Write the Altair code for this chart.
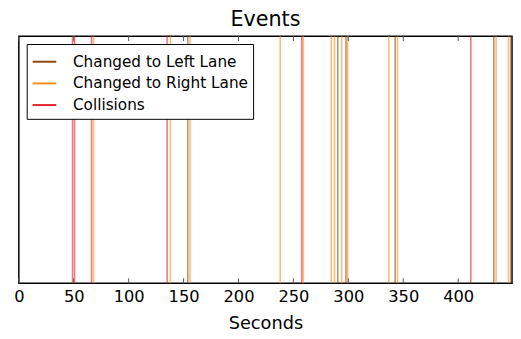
import altair as alt
import pandas as pd

categories = ["Changed to Left Lane", "Changed to Right Lane", "Collisions"]
colors = ["#8b4a14", "#ff8c1a", "#e8202a"]

left_lane = [153.8, 290.4, 297.8, 342.6, 432.4, 448.0]
right_lane = [68.0, 138.0, 155.9, 238.0, 259.0, 284.5, 287.4, 294.0, 299.4,
              336.8, 344.8, 434.5, 445.9]
collisions = [48.9, 50.7, 66.2, 135.0, 257.6, 411.5]

tick_values = [0, 50, 100, 150, 200, 250, 300, 350, 400]

rows = ([{"t": v, "event": categories[0]} for v in left_lane]
        + [{"t": v, "event": categories[1]} for v in right_lane]
        + [{"t": v, "event": categories[2]} for v in collisions])
df = pd.DataFrame(rows)
ticks = pd.DataFrame({"t": tick_values})

W, H = 501, 251
xscale = alt.Scale(domain=[0, 449], nice=False, zero=False)

lines = alt.Chart(df).mark_rule(strokeWidth=1.6, opacity=0.6).encode(
    x=alt.X("t:Q", scale=xscale, title="Seconds",
            axis=alt.Axis(values=tick_values, tickSize=0, domain=False, grid=False,
                          labelFontSize=16.5, labelFont="DejaVu Sans", labelColor="black",
                          labelPadding=6, titleFontSize=18, titleFont="DejaVu Sans",
                          titleFontWeight="normal", titleColor="black", titlePadding=10,
                          labelFlush=False)),
    color=alt.Color("event:N", scale=alt.Scale(domain=categories, range=colors),
                    title=None,
                    legend=alt.Legend(orient="none", legendX=8, legendY=8,
                                      symbolType="stroke", symbolSize=576,
                                      symbolStrokeWidth=2, labelFontSize=15.5,
                                      labelFont="DejaVu Sans", labelColor="black",
                                      labelOffset=16, strokeColor="black",
                                      fillColor="white", padding=5, rowPadding=0,
                                      symbolOpacity=1, labelLimit=300)),
)

bottom_ticks = alt.Chart(ticks).mark_rule(color="#555555", strokeWidth=1).encode(
    x=alt.X("t:Q", scale=xscale),
    y=alt.value(H - 5), y2=alt.value(H),
)
top_ticks = alt.Chart(ticks).mark_rule(color="#555555", strokeWidth=1).encode(
    x=alt.X("t:Q", scale=xscale),
    y=alt.value(0), y2=alt.value(5),
)

chart = alt.layer(lines, bottom_ticks, top_ticks).properties(
    width=W, height=H,
    title=alt.TitleParams("Events", fontSize=21, font="DejaVu Sans",
                          fontWeight="normal", color="black", offset=5),
    autosize=alt.AutoSizeParams(type="none"),
    padding={"left": 11, "top": 26, "right": 1, "bottom": 50},
).configure(background="white").configure_view(stroke="black", strokeWidth=1.5)

chart.save("out.html", embed_options={"renderer": "svg", "actions": False})
